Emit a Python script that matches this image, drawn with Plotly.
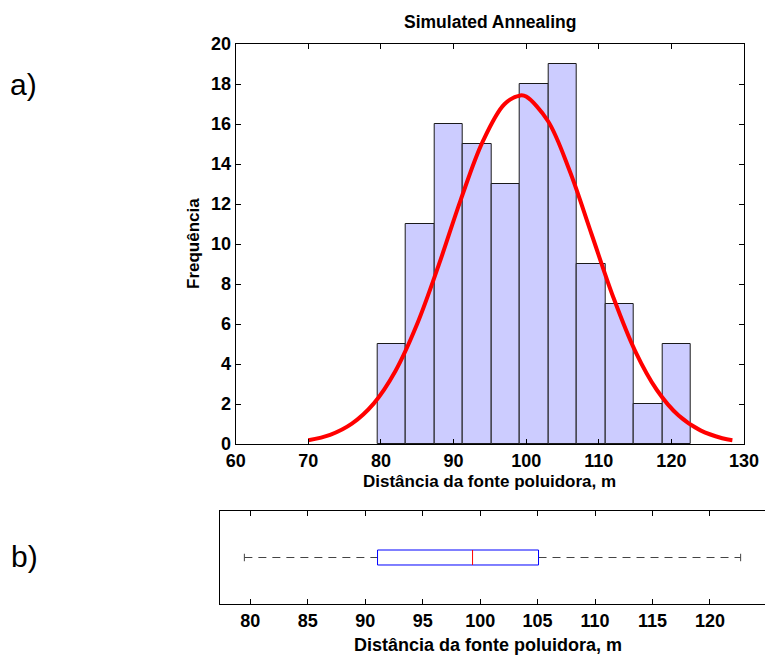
import plotly.graph_objects as go

# ---------------- data ----------------
bin_centers = [81.46, 85.39, 89.32, 93.24, 97.17, 101.10, 105.03, 108.95, 112.88, 116.81, 120.74]
bin_width = 3.927
counts = [5, 11, 16, 15, 13, 18, 19, 9, 7, 2, 5]

fit_x = [70, 73, 76, 79, 82, 85, 88, 91, 94, 97, 99.2, 100, 103, 106, 109, 112, 115, 118, 121, 124, 127, 128.4]
fit_y = [0.19, 0.46, 1.02, 2.02, 3.65, 6.01, 8.99, 12.22, 15.11, 16.99, 17.43, 17.37, 16.15, 13.65,
         10.50, 7.34, 4.66, 2.70, 1.42, 0.68, 0.29, 0.19]

q1, median, q3 = 91.07, 99.34, 105.08
whisker_lo, whisker_hi = 79.48, 122.67

top_xticks = [60, 70, 80, 90, 100, 110, 120, 130]
top_yticks = [0, 2, 4, 6, 8, 10, 12, 14, 16, 18, 20]
bottom_xticks = [80, 85, 90, 95, 100, 105, 110, 115, 120]

title_text = "Simulated Annealing"
xlabel_text = "Distância da fonte poluidora, m"
ylabel_text = "Frequência"

# ---------------- layout helpers ----------------
W, H = 765, 656
def fx(p):
    return p / W
def fy(p):
    return 1 - p / H

FONT = "Liberation Sans, Arial, sans-serif"
box_lo, box_hi = 0.42, 0.58
cap_lo, cap_hi = 0.46, 0.54
mid = 0.5

fig = go.Figure()

# histogram bars
fig.add_trace(go.Bar(
    x=bin_centers, y=counts, width=bin_width,
    marker=dict(color="#ccccff", line=dict(color="#1a1a1a", width=1)),
    xaxis="x", yaxis="y", hoverinfo="skip"))

# fitted normal curve
fig.add_trace(go.Scatter(
    x=fit_x, y=fit_y, mode="lines",
    line=dict(color="#ff0000", width=4, shape="spline"),
    xaxis="x", yaxis="y", hoverinfo="skip"))

# boxplot: whiskers
for a, b in [(whisker_lo, q1), (q3, whisker_hi)]:
    fig.add_trace(go.Scatter(
        x=[a, b], y=[mid, mid], mode="lines",
        line=dict(color="#444444", width=1, dash="8px,6px"),
        xaxis="x2", yaxis="y2", hoverinfo="skip"))
# caps
for v in [whisker_lo, whisker_hi]:
    fig.add_trace(go.Scatter(
        x=[v, v], y=[cap_lo, cap_hi], mode="lines",
        line=dict(color="#444444", width=1),
        xaxis="x2", yaxis="y2", hoverinfo="skip"))
# box
fig.add_trace(go.Scatter(
    x=[q1, q3, q3, q1, q1], y=[box_lo, box_lo, box_hi, box_hi, box_lo], mode="lines",
    line=dict(color="#0000ff", width=1),
    xaxis="x2", yaxis="y2", hoverinfo="skip"))
# median
fig.add_trace(go.Scatter(
    x=[median, median], y=[box_lo, box_hi], mode="lines",
    line=dict(color="#ff0000", width=1),
    xaxis="x2", yaxis="y2", hoverinfo="skip"))

tickfont = dict(family=FONT, size=18, color="black", weight="bold")
common = dict(showgrid=False, zeroline=False, showline=True, linecolor="black", linewidth=1,
              ticks="inside", ticklen=5, tickcolor="black", tickwidth=1, tickfont=tickfont,
              automargin=False)

fig.update_layout(
    template="none",
    width=W, height=H, autosize=False,
    margin=dict(l=0, r=0, t=0, b=0, pad=0),
    paper_bgcolor="white", plot_bgcolor="white",
    showlegend=False, bargap=0,
    xaxis=dict(domain=[fx(235.7), fx(744)], range=[60, 130], tickvals=top_xticks,
               mirror="ticks", anchor="y", **common),
    yaxis=dict(domain=[fy(444), fy(44)], range=[0, 20], tickvals=top_yticks,
               mirror="ticks", anchor="x", **common),
    xaxis2=dict(domain=[fx(220), 1.0], range=[77.36, 124.79], tickvals=bottom_xticks,
                mirror="ticks", anchor="y2", **common),
    yaxis2=dict(domain=[fy(604.3), fy(510.7)], range=[0, 1], showgrid=False, zeroline=False,
                showline=True, linecolor="black", linewidth=1, ticks="", showticklabels=False,
                mirror=False, anchor="x2", automargin=False),
)

def label(text, x, y, size=17, bold=True, angle=0):
    fig.add_annotation(text=text, x=fx(x), y=fy(y), xref="paper", yref="paper",
                       xanchor="center", yanchor="middle", showarrow=False, textangle=angle,
                       font=dict(family=FONT, size=size, color="black",
                                 weight="bold" if bold else "normal"))

label(title_text, 489.9, 22, size=17.5)
label(xlabel_text, 489.9, 481)
label(ylabel_text, 193, 244, angle=-90)
label(xlabel_text, 488.5, 645, size=18)
label("a)", 23.5, 84, size=30, bold=False)
label("b)", 24.5, 556, size=30, bold=False)

fig.write_html("out.html")
